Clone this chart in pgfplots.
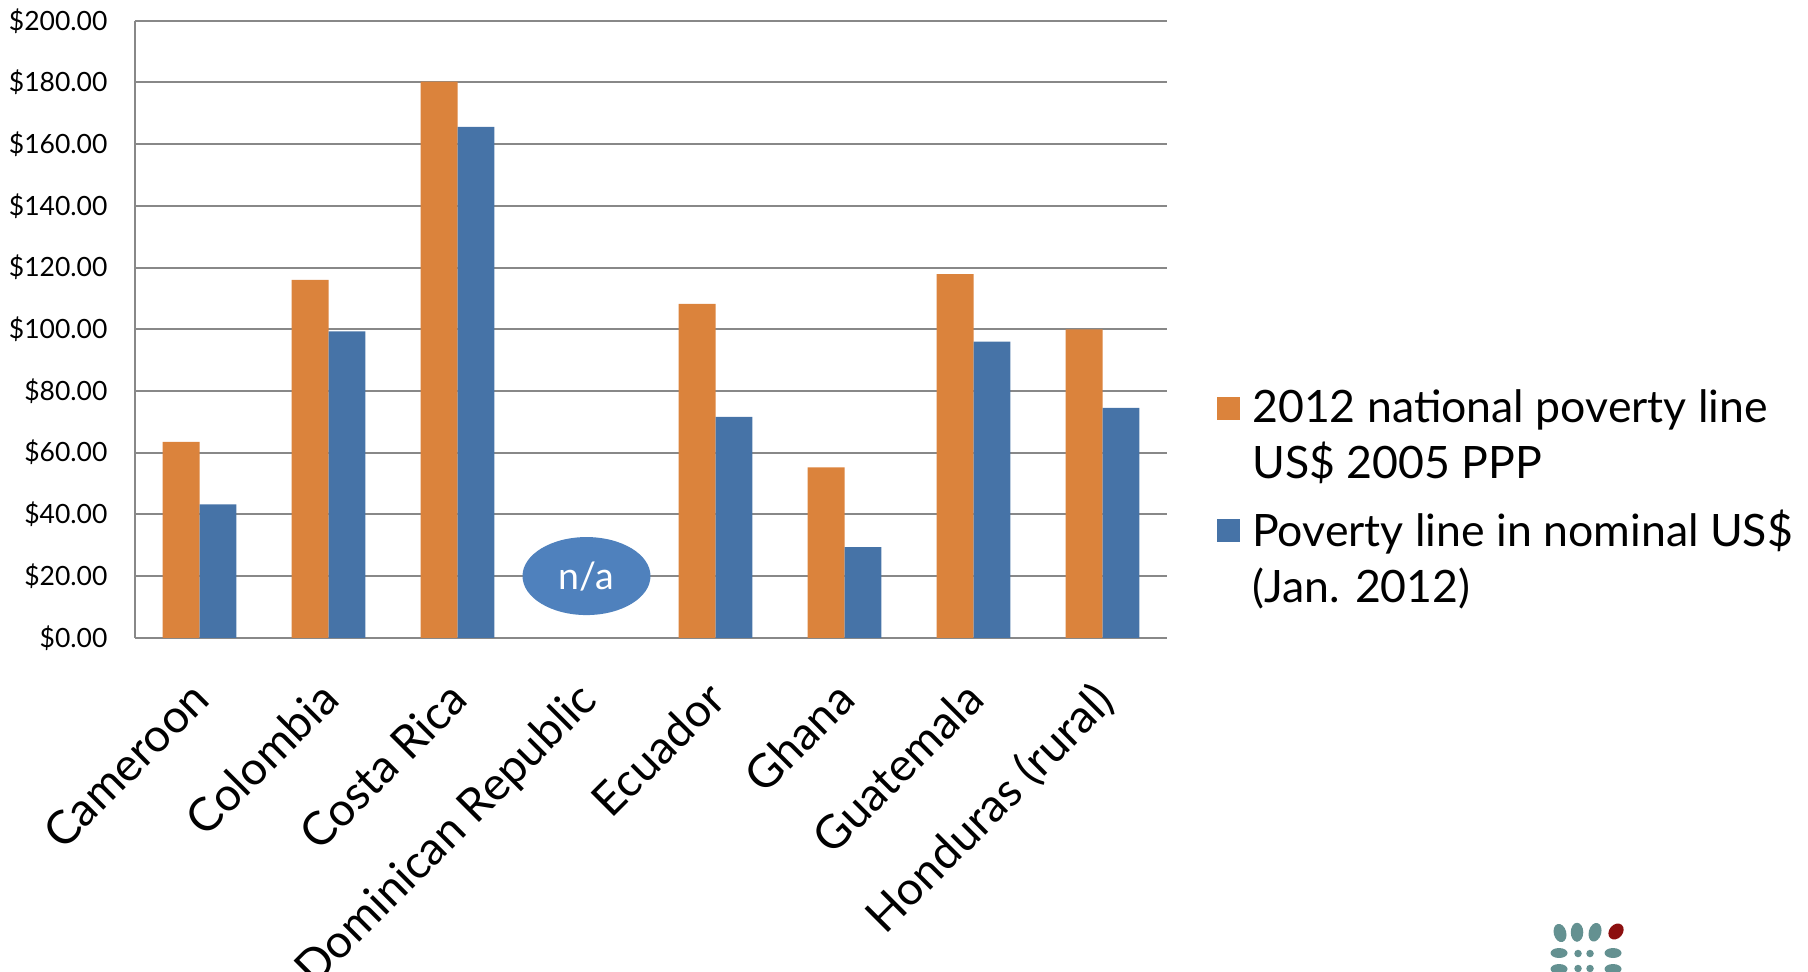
\documentclass[border=0pt]{standalone}
\usepackage{pgfplots}
\pgfplotsset{compat=1.18}
\usepackage{fontspec}
\setmainfont{Lato}
\definecolor{barorange}{RGB}{219,131,60}
\definecolor{barblue}{RGB}{70,115,167}
\definecolor{nablue}{RGB}{79,129,189}
\definecolor{gridgray}{RGB}{136,136,136}
\definecolor{logoteal}{RGB}{100,145,145}
\definecolor{logored}{RGB}{140,15,15}
\begin{document}
\begin{tikzpicture}
\begin{axis}[
  name=ax,
  scale only axis, width=412.8pt, height=246.8pt,
  xmin=-0.5, xmax=7.5, ymin=0, ymax=200,
  enlargelimits=false,
  ybar=0pt, bar width=14.76pt,
  xtick={0,1,2,3,4,5,6,7},
  xticklabels={Cameroon, Colombia, Costa Rica, Dominican Republic, Ecuador, Ghana, Guatemala, Honduras (rural)},
  ytick={0,20,40,60,80,100,120,140,160,180,200},
  yticklabel={\$\pgfmathprintnumber[fixed,fixed zerofill,precision=2]{\tick}},
  /pgf/number format/assume math mode=true,
  axis x line*=bottom, axis y line*=left,
  axis line style={gridgray, line width=0.8pt},
  major tick length=0pt,
  ymajorgrids, grid style={gridgray, line width=0.8pt},
  yticklabel style={font=\fontsize{10.6}{13}\selectfont, xshift=-7.5pt},
  xticklabel style={xshift=-4.5pt, yshift=-11.3pt, rotate=45, anchor=north east, font=\fontsize{18.5}{22}\selectfont},
  legend style={draw=none, fill=none, at={(axis description cs:1.041,0.419)}, anchor=north west,
    font=\fontsize{17.85}{22.4}\selectfont, cells={align=left, anchor=west}, row sep=7pt,
    /tikz/every odd column/.append style={column sep=2.8pt}},
  legend cell align=left,
]
\addplot[fill=barorange, draw=none,
  legend image code/.code={\fill[barorange] (0pt,6.5pt) rectangle (9.2pt,15.7pt);}]
  coordinates {(0,63.5) (1,116.0) (2,180.3) (4,108.2) (5,55.2) (6,117.9) (7,100.0)};
\addlegendentry{2012 national poverty line\\US\$ 2005 PPP}
\addplot[fill=barblue, draw=none,
  legend image code/.code={\fill[barblue] (0pt,6.5pt) rectangle (9.2pt,15.7pt);}]
  coordinates {(0,43.2) (1,99.3) (2,165.6) (4,71.6) (5,29.4) (6,96.0) (7,74.5)};
\addlegendentry{Poverty line in nominal US\$\\(Jan. 2012)}
\fill[nablue] (axis cs:3,20) ellipse [x radius=25.6pt, y radius=15.6pt];
\node[text=white, font=\fontsize{15}{18}\selectfont] at (axis cs:3,20) {n/a};
\end{axis}
% decorative logo (bottom right, partly cut off)
\begin{scope}[shift={(ax.south west)}]
\fill[logoteal, rotate around={15:(570pt,-118.1pt)}] (570pt,-118.1pt) ellipse [x radius=2.5pt, y radius=3.7pt];
\fill[logoteal] (576.8pt,-117.8pt) ellipse [x radius=2.5pt, y radius=3.8pt];
\fill[logoteal, rotate around={-15:(584pt,-117.8pt)}] (584pt,-117.8pt) ellipse [x radius=2.5pt, y radius=3.8pt];
\fill[logored, rotate around={-40:(592.4pt,-117.5pt)}] (592.4pt,-117.5pt) ellipse [x radius=2.7pt, y radius=3.5pt];
\fill[logoteal] (569.6pt,-126.1pt) ellipse [x radius=3.4pt, y radius=2pt];
\fill[logoteal] (577.2pt,-126.3pt) circle [radius=1.5pt];
\fill[logoteal] (582pt,-126.3pt) circle [radius=1.5pt];
\fill[logoteal] (591.2pt,-126.1pt) ellipse [x radius=3.4pt, y radius=2pt];
\fill[logoteal] (569.6pt,-132.5pt) ellipse [x radius=3.4pt, y radius=2pt];
\fill[logoteal] (577.2pt,-132.3pt) circle [radius=1.5pt];
\fill[logoteal] (582pt,-132.3pt) circle [radius=1.5pt];
\fill[logoteal] (591.2pt,-132.5pt) ellipse [x radius=3.4pt, y radius=2pt];
\end{scope}
\pgfresetboundingbox
\path ([shift={(-54pt,-133.3pt)}]ax.south west) rectangle ([shift={(256.4pt,8.3pt)}]ax.north east);
\end{tikzpicture}
\end{document}
